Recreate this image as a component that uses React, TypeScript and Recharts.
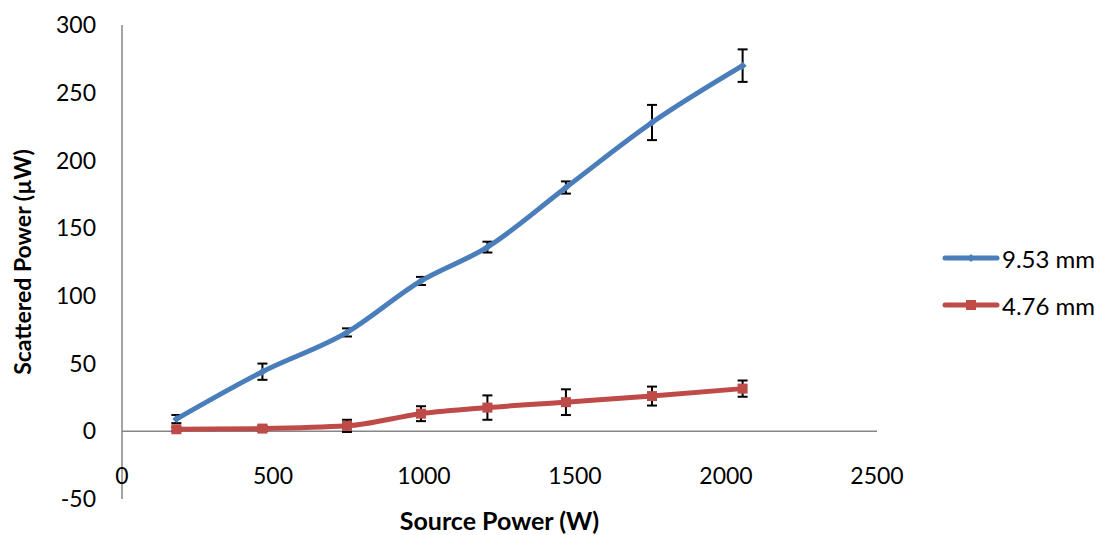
import React from 'react';
import { ComposedChart, Line, XAxis, YAxis, ReferenceLine, ErrorBar } from 'recharts';

const sourcePower = [180, 465, 745, 990, 1210, 1470, 1755, 2055];
const power953 = [9, 44, 73, 111, 136, 180, 228, 270];
const err953 = [3, 6, 3, 3, 4, 4.5, 13, 12];
const power476 = [1.5, 2, 4, 13, 17.5, 21.5, 26, 31.5];
const err476 = [1.5, 2, 4.5, 5.5, 9, 9.5, 7, 6];

const xTicks = [0, 500, 1000, 1500, 2000, 2500];
const yTicks = [-50, 0, 50, 100, 150, 200, 250, 300];

const BLUE = '#4A7EBB';
const RED = '#BE4B48';
const FONT = 'Lato, "Noto Sans", sans-serif';

const data = sourcePower.map((x, i) => ({
  x,
  a: power953[i],
  aErr: err953[i],
  b: power476[i],
  bErr: err476[i],
}));

const Diamond = (props: any) => {
  const { cx, cy } = props;
  if (cx == null || cy == null) return null;
  return <polygon points={`${cx},${cy - 4} ${cx + 4},${cy} ${cx},${cy + 4} ${cx - 4},${cy}`} fill={BLUE} />;
};

const Square = (props: any) => {
  const { cx, cy } = props;
  if (cx == null || cy == null) return null;
  return <rect x={cx - 5} y={cy - 5} width={10} height={10} fill={RED} />;
};

// x labels sit under the zero line, not under the plot bottom
const XTick = (props: any) => {
  const { x, y, payload } = props;
  return (
    <text x={x} y={y - 23} textAnchor="middle" fontSize={23} fill="#000" fontFamily={FONT}>
      {payload.value}
    </text>
  );
};

const legendItems = [
  { name: '9.53 mm', color: BLUE, square: false },
  { name: '4.76 mm', color: RED, square: true },
];

const LegendBox = () => (
  <div style={{ position: 'absolute', left: 942, top: 244, fontFamily: FONT, fontSize: 24, color: '#000' }}>
    {legendItems.map((s, i) => (
      <div key={s.name} style={{ display: 'flex', alignItems: 'center', height: 28, marginBottom: i === 0 ? 19 : 0 }}>
        <svg width={58} height={14} style={{ display: 'block' }}>
          <line x1={3} y1={7} x2={55} y2={7} stroke={s.color} strokeWidth={5} strokeLinecap="round" />
          {s.square ? (
            <rect x={24} y={2} width={10} height={10} fill={s.color} />
          ) : (
            <polygon points="29,3 33,7 29,11 25,7" fill={s.color} />
          )}
        </svg>
        <span style={{ whiteSpace: 'nowrap', marginLeft: 2 }}>{s.name}</span>
      </div>
    ))}
  </div>
);

export default function App() {
  return (
    <div style={{ position: 'absolute', left: 0, top: 0, width: 1099, height: 535, background: '#fff' }}>
      <ComposedChart width={1099} height={535} data={data} margin={{ top: 25, right: 222, bottom: 0, left: 0 }}>
        <XAxis
          dataKey="x"
          type="number"
          domain={[0, 2500]}
          ticks={xTicks}
          axisLine={false}
          tickLine={false}
          tick={<XTick />}
          height={36}
          label={{ value: 'Source Power (W)', position: 'insideBottom', offset: 5, fontSize: 25, fontWeight: 700, fill: '#000', fontFamily: FONT }}
        />
        <YAxis
          type="number"
          domain={[-50, 300]}
          ticks={yTicks}
          width={122}
          axisLine={{ stroke: '#868686', strokeWidth: 1.5 }}
          tickLine={false}
          tickMargin={20}
          tick={{ fontSize: 23, fill: '#000', fontFamily: FONT }}
          label={{ value: 'Scattered Power (\u00b5W)', angle: -90, position: 'center', dx: -38, fontSize: 23, fontWeight: 700, fill: '#000', fontFamily: FONT }}
        />
        <ReferenceLine y={0} stroke="#868686" strokeWidth={1.5} />
        <Line
          type="monotone"
          dataKey="a"
          name="9.53 mm"
          stroke={BLUE}
          strokeWidth={5}
          dot={<Diamond />}
          activeDot={false}
          isAnimationActive={false}
        >
          <ErrorBar dataKey="aErr" width={5} stroke="#000" strokeWidth={2} direction="y" />
        </Line>
        <Line
          type="monotone"
          dataKey="b"
          name="4.76 mm"
          stroke={RED}
          strokeWidth={5}
          dot={<Square />}
          activeDot={false}
          isAnimationActive={false}
        >
          <ErrorBar dataKey="bErr" width={5} stroke="#000" strokeWidth={2} direction="y" />
        </Line>
      </ComposedChart>
      <LegendBox />
    </div>
  );
}
